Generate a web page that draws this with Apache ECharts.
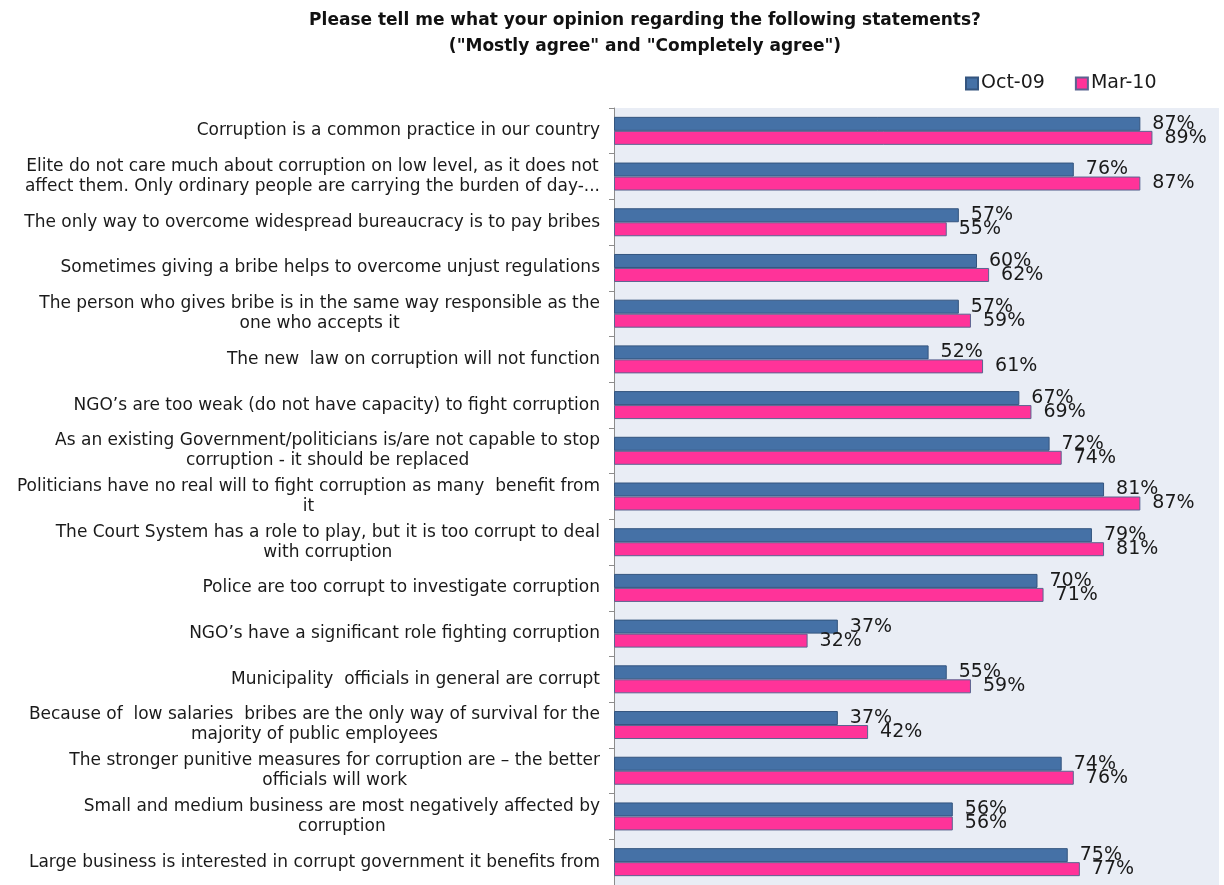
<!DOCTYPE html>
<html>
<head>
<meta charset="utf-8">
<script src="https://cdn.jsdelivr.net/npm/echarts@6/dist/echarts.min.js"></script>
<style>
  html, body { margin: 0; padding: 0; background: #ffffff; }
  #chart { width: 1224px; height: 885px; }
</style>
</head>
<body>
<div id="chart"></div>
<script>
// Survey statements (top to bottom)
const statements = [
  'Corruption is a common practice in our country',
  'Elite do not care much about corruption on low level, as it does not\naffect them. Only ordinary people are carrying the burden of day-...',
  'The only way to overcome widespread bureaucracy is to pay bribes',
  'Sometimes giving a bribe helps to overcome unjust regulations',
  'The person who gives bribe is in the same way responsible as the\none who accepts it',
  'The new  law on corruption will not function',
  'NGO\u2019s are too weak (do not have capacity) to fight corruption',
  'As an existing Government/politicians is/are not capable to stop\ncorruption - it should be replaced',
  'Politicians have no real will to fight corruption as many  benefit from\nit',
  'The Court System has a role to play, but it is too corrupt to deal\nwith corruption',
  'Police are too corrupt to investigate corruption',
  'NGO\u2019s have a significant role fighting corruption',
  'Municipality  officials in general are corrupt',
  'Because of  low salaries  bribes are the only way of survival for the\nmajority of public employees',
  'The stronger punitive measures for corruption are \u2013 the better\nofficials will work',
  'Small and medium business are most negatively affected by\ncorruption',
  'Large business is interested in corrupt government it benefits from'
];

// Share answering "Mostly agree" + "Completely agree", in percent
const oct09 = [87, 76, 57, 60, 57, 52, 67, 72, 81, 79, 70, 37, 55, 37, 74, 56, 75];
const mar10 = [89, 87, 55, 62, 59, 61, 69, 74, 87, 81, 71, 32, 59, 42, 76, 56, 77];

const waveNames = ['Oct-09', 'Mar-10'];

const titleLines = [
  'Please tell me what your opinion regarding the following statements?',
  '("Mostly agree" and "Completely agree")'
];

const FONT = 'DejaVu Sans';

const chart = echarts.init(document.getElementById('chart'), null, { renderer: 'canvas' });

function valueLabel() {
  return {
    show: true,
    position: 'right',
    distance: 12,
    formatter: p => p.value + '%',
    fontFamily: FONT,
    fontSize: 19,
    color: '#1a1a1a'
  };
}

chart.setOption({
  animation: false,
  backgroundColor: '#ffffff',
  title: {
    text: titleLines.join('\n'),
    left: 640,
    textAlign: 'center',
    top: 3,
    textStyle: {
      fontFamily: FONT,
      fontSize: 17,
      fontWeight: 'bold',
      color: '#111111',
      lineHeight: 26
    }
  },
  legend: {
    data: waveNames,
    top: 69,
    left: 960,
    icon: 'rect',
    itemWidth: 12,
    itemHeight: 12,
    itemGap: 30,
    textStyle: { fontFamily: FONT, fontSize: 19, color: '#1a1a1a', padding: [0, 0, 0, -2] }
  },
  grid: {
    left: 614,
    right: 5,
    top: 108,
    bottom: 0,
    show: true,
    backgroundColor: '#E9EDF5',
    borderWidth: 0,
    containLabel: false
  },
  xAxis: {
    type: 'value',
    min: 0,
    max: 100,
    show: false
  },
  yAxis: {
    type: 'category',
    data: statements,
    inverse: true,
    axisLine: { show: true, lineStyle: { color: '#8c8c8c', width: 1 } },
    axisTick: { show: true, length: 5, lineStyle: { color: '#8c8c8c' } },
    axisLabel: {
      margin: 14,
      align: 'right',
      formatter: v => v.split('\n').map(s => '{c|' + s + '}').join('\n'),
      rich: {
        c: {
          fontFamily: FONT,
          fontSize: 17,
          color: '#1a1a1a',
          align: 'center',
          lineHeight: 20
        }
      }
    }
  },
  series: [
    {
      name: waveNames[0],
      type: 'bar',
      data: oct09,
      barWidth: 14,
      barGap: '0%',
      itemStyle: { color: '#4571A6', borderColor: '#34557F', borderWidth: 1 },
      label: valueLabel()
    },
    {
      name: waveNames[1],
      type: 'bar',
      data: mar10,
      barWidth: 14,
      barGap: '0%',
      itemStyle: { color: '#FF3399', borderColor: '#5A6490', borderWidth: 1 },
      label: valueLabel()
    }
  ]
});
</script>
</body>
</html>
